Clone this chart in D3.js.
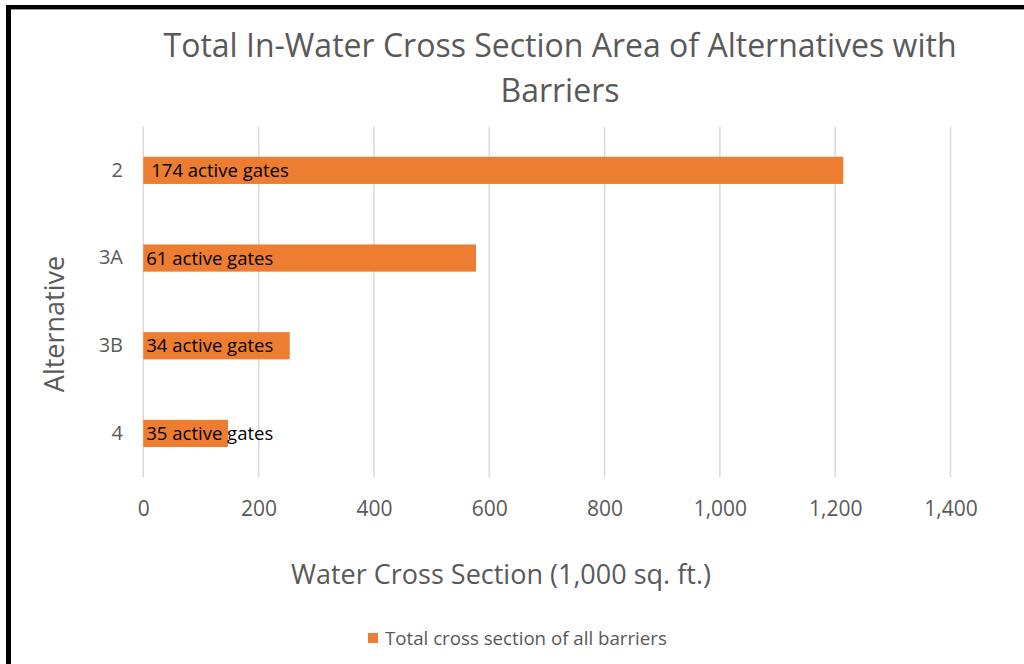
<!DOCTYPE html>
<html>
<head>
<meta charset="utf-8">
<script src="https://cdn.jsdelivr.net/npm/d3@7"></script>
<style>
  body { margin: 0; background: #fff; }
  svg { display: block; font-family: "Open Sans", Lato, sans-serif; }
</style>
</head>
<body>
<script>

// chart data
let categories = ['2', '3A', '3B', '4']
let values = [1214, 577, 254, 147]
let barLabels = ['174 active gates', '61 active gates', '34 active gates', '35 active gates']
let xTicks = [0, 200, 400, 600, 800, 1000, 1200, 1400]

let width = 1024
let height = 664

let plotLeft = 143.3
let plotRight = 950.5
let plotTop = 126.5
let plotBottom = 477.3

let svg = d3.select('body')
            .append('svg')
            .attr('width', width)
            .attr('height', height)

// frame lines
svg.append('rect')
    .attr('x', 6).attr('y', 5)
    .attr('width', width - 6).attr('height', 4)
    .attr('fill', '#000')
svg.append('rect')
    .attr('x', 11).attr('y', 9)
    .attr('width', width - 11).attr('height', 1)
    .attr('fill', '#999')
svg.append('rect')
    .attr('x', 6).attr('y', 5)
    .attr('width', 5).attr('height', height - 5)
    .attr('fill', '#000')

let xScale = d3.scaleLinear()
                .domain([0, 1400])
                .range([plotLeft, plotRight])

let yScale = d3.scaleBand()
                .domain(categories)
                .range([plotTop, plotBottom])
                .paddingInner(0.69)
                .paddingOuter(0.345)

// gridlines
svg.append('g')
    .selectAll('line')
    .data(xTicks)
    .enter()
    .append('line')
    .attr('x1', d => xScale(d))
    .attr('x2', d => xScale(d))
    .attr('y1', plotTop)
    .attr('y2', plotBottom)
    .attr('stroke', '#d9d9d9')
    .attr('stroke-width', 1.5)

// x axis
let xAxis = d3.axisBottom(xScale)
                .tickValues(xTicks)
                .tickFormat(d3.format(','))
                .tickSize(0)
                .tickPadding(0)

let gx = svg.append('g')
    .attr('id', 'x-axis')
    .attr('transform', 'translate(0,' + 516 + ')')
    .call(xAxis)
gx.select('.domain').remove()
gx.selectAll('text')
    .attr('dy', 0)
    .attr('fill', '#595959')
    .style('font-family', '"Open Sans", sans-serif')
    .style('font-size', '21px')

// y axis
let yAxis = d3.axisLeft(yScale)
                .tickSize(0)
                .tickPadding(0)

let gy = svg.append('g')
    .attr('id', 'y-axis')
    .attr('transform', 'translate(123,0)')
    .call(yAxis)
gy.select('.domain').remove()
gy.selectAll('text')
    .attr('fill', '#595959')
    .style('font-family', '"Open Sans", sans-serif')
    .style('font-size', '20px')

// bars
svg.selectAll('rect.bar')
    .data(values)
    .enter()
    .append('rect')
    .attr('class', 'bar')
    .attr('x', xScale(0))
    .attr('y', (d, i) => yScale(categories[i]))
    .attr('width', d => xScale(d) - xScale(0))
    .attr('height', yScale.bandwidth())
    .attr('fill', '#ed7d31')

// labels on the bars
svg.selectAll('text.bar-label')
    .data(barLabels)
    .enter()
    .append('text')
    .attr('class', 'bar-label')
    .attr('x', (d, i) => i === 0 ? xScale(0) + 8 : xScale(0) + 3)
    .attr('y', (d, i) => yScale(categories[i]) + yScale.bandwidth() / 2)
    .attr('dy', '0.35em')
    .attr('fill', '#000')
    .style('font-size', '18.5px')
    .text(d => d)

// title
let title = svg.append('text')
    .attr('x', 560)
    .attr('text-anchor', 'middle')
    .attr('fill', '#595959')
    .style('font-size', '32px')
title.append('tspan').attr('x', 560).attr('y', 57)
    .text('Total In-Water Cross Section Area of Alternatives with')
title.append('tspan').attr('x', 560).attr('y', 102)
    .text('Barriers')

// axis titles
svg.append('text')
    .attr('x', 501)
    .attr('y', 584)
    .attr('text-anchor', 'middle')
    .attr('fill', '#595959')
    .style('font-size', '27px')
    .text('Water Cross Section (1,000 sq. ft.)')

svg.append('text')
    .attr('transform', 'translate(64,' + 324 + ') rotate(-90)')
    .attr('text-anchor', 'middle')
    .attr('fill', '#595959')
    .style('font-size', '27px')
    .text('Alternative')

// legend
svg.append('rect')
    .attr('x', 368)
    .attr('y', 633)
    .attr('width', 10)
    .attr('height', 10)
    .attr('fill', '#ed7d31')
svg.append('text')
    .attr('x', 385)
    .attr('y', 645)
    .attr('fill', '#595959')
    .style('font-size', '18.7px')
    .text('Total cross section of all barriers')

</script>
</body>
</html>
